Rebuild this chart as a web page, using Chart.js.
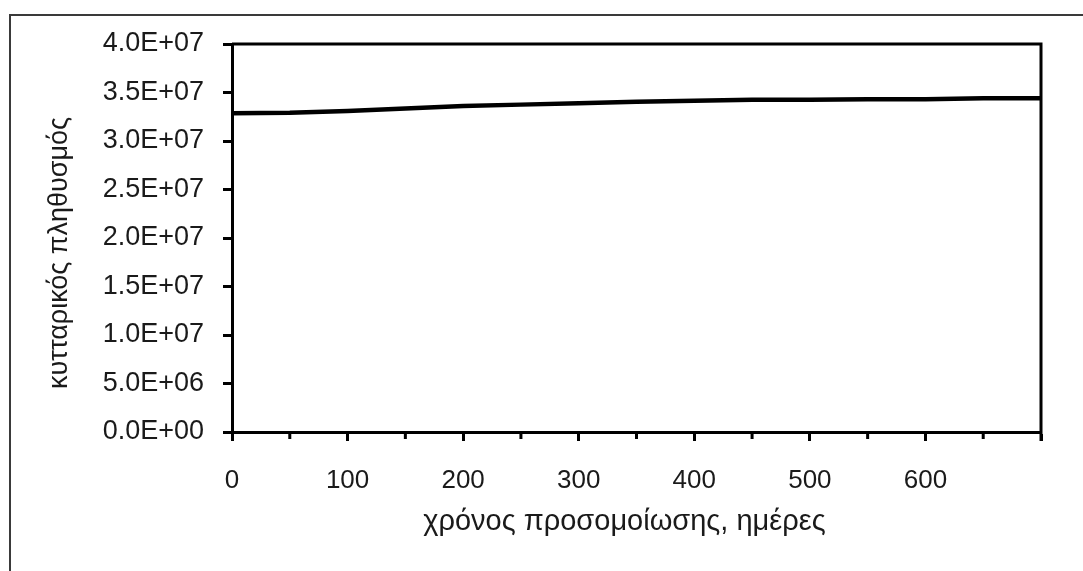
<!DOCTYPE html>
<html>
<head>
<meta charset="utf-8">
<script src="https://cdn.jsdelivr.net/npm/chart.js@4.4.1/dist/chart.umd.min.js"></script>
<style>
    html, body { margin: 0; padding: 0; background: #fff; }
    #wrap { position: relative; width: 1083px; height: 571px; overflow: hidden; }
    #frame {
        position: absolute; left: 9px; top: 14px; width: 1200px; height: 700px;
        border-top: 2px solid #3a3a3a; border-left: 2px solid #3a3a3a;
    }
    #populationChart { position: absolute; left: 0; top: 0; }
</style>
</head>
<body>
<div id="wrap">
    <div id="frame"></div>
    <canvas id="populationChart" width="1083" height="571"></canvas>
</div>
<script>
// Data
const days = [0, 50, 100, 150, 200, 250, 300, 350, 400, 450, 500, 550, 600, 650, 700];
const cellCount = [3.285e7, 3.29e7, 3.31e7, 3.335e7, 3.36e7, 3.375e7, 3.39e7, 3.405e7,
                   3.415e7, 3.425e7, 3.425e7, 3.43e7, 3.43e7, 3.44e7, 3.44e7];
const xMinorTicks = [50, 150, 250, 350, 450, 550, 650];
// trailing spaces nudge the titles off-centre like in the original
const yTitle = 'κυτταρικός πληθυσμός    ';
const xTitle = 'χρόνος προσομοίωσης, ημέρες   ';

const fontFamily = '"Liberation Sans", Arial, sans-serif';

// 4.0E+07 style labels
const sciLabel = (v) => {
    const [m, e] = Number(v).toExponential(1).toUpperCase().split('E');
    const sign = e[0] === '-' ? '-' : '+';
    const exp = e.replace(/[+-]/, '').padStart(2, '0');
    return m + 'E' + sign + exp;
};

// Top/right border of the plot box and the short minor ticks on the x axis
const boxPlugin = {
    id: 'box',
    afterDraw(chart) {
        const { ctx, chartArea: a, scales } = chart;
        ctx.save();
        ctx.strokeStyle = '#000';
        ctx.lineWidth = 3;
        ctx.beginPath();
        ctx.moveTo(a.left, a.top);
        ctx.lineTo(a.right, a.top);
        ctx.lineTo(a.right, a.bottom + 9);
        ctx.stroke();
        ctx.beginPath();
        xMinorTicks.forEach(d => {
            const px = scales.x.getPixelForValue(d);
            ctx.moveTo(px, a.bottom);
            ctx.lineTo(px, a.bottom + 7);
        });
        ctx.stroke();
        ctx.restore();
    }
};

const ctx = document.getElementById('populationChart').getContext('2d');
const populationChart = new Chart(ctx, {
    type: 'line',
    data: {
        datasets: [{
            data: days.map((d, i) => ({ x: d, y: cellCount[i] })),
            borderColor: '#000',
            borderWidth: 4.5,
            pointRadius: 0,
            tension: 0,
            clip: 4
        }]
    },
    options: {
        responsive: false,
        animation: false,
        devicePixelRatio: 1,
        layout: { padding: { left: 0, top: 44, right: 42, bottom: 0 } },
        plugins: {
            legend: { display: false },
            tooltip: { enabled: false }
        },
        scales: {
            x: {
                type: 'linear',
                min: 0,
                max: 700,
                afterFit: (scale) => { scale.height = 139; },
                ticks: {
                    stepSize: 100,
                    padding: 24,
                    color: '#1a1a1a',
                    maxRotation: 0,
                    font: { family: fontFamily, size: 26 },
                    callback: (v) => (v >= 700 ? '' : v)
                },
                grid: {
                    drawOnChartArea: false,
                    drawTicks: true,
                    tickLength: 9,
                    tickWidth: 3,
                    tickColor: '#000'
                },
                border: { display: true, color: '#000', width: 3 },
                title: {
                    display: true,
                    text: xTitle,
                    color: '#1a1a1a',
                    font: { family: fontFamily, size: 29 },
                    padding: { top: 0, bottom: 32 }
                }
            },
            y: {
                min: 0,
                max: 4e7,
                afterFit: (scale) => { scale.width = 232; },
                ticks: {
                    stepSize: 5e6,
                    padding: 19,
                    color: '#1a1a1a',
                    font: { family: fontFamily, size: 27 },
                    callback: (v) => sciLabel(v)
                },
                grid: {
                    drawOnChartArea: false,
                    drawTicks: true,
                    tickLength: 9,
                    tickWidth: 3,
                    tickColor: '#000'
                },
                border: { display: true, color: '#000', width: 3 },
                title: {
                    display: true,
                    text: yTitle,
                    color: '#1a1a1a',
                    font: { family: fontFamily, size: 27 },
                    padding: { top: 43, bottom: 0 }
                }
            }
        }
    },
    plugins: [boxPlugin]
});
</script>
</body>
</html>
